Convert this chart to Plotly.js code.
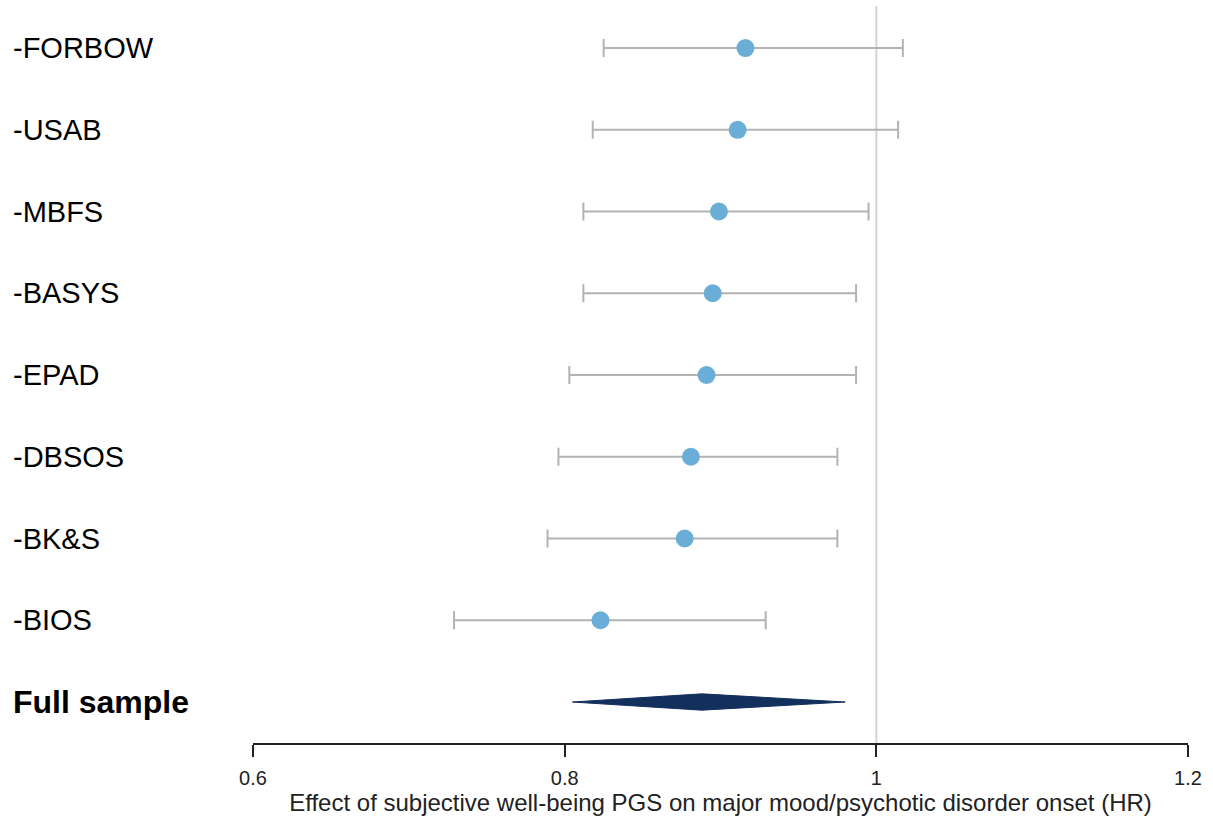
<!DOCTYPE html>
<html>
<head>
<meta charset="utf-8">
<script src="https://cdn.plot.ly/plotly-3.0.1.min.js"></script>
<style>
html, body { margin: 0; padding: 0; background: #ffffff; }
#chart { width: 1213px; height: 820px; }
</style>
</head>
<body>
<div id="chart"></div>
<script>
// ---- data ----
var studies = ["-FORBOW", "-USAB", "-MBFS", "-BASYS", "-EPAD", "-DBSOS", "-BK&S", "-BIOS"];
var hr      = [0.916, 0.911, 0.899, 0.895, 0.891, 0.881, 0.877, 0.823];
var ciLow   = [0.825, 0.818, 0.812, 0.812, 0.803, 0.796, 0.789, 0.729];
var ciHigh  = [1.017, 1.014, 0.995, 0.987, 0.987, 0.975, 0.975, 0.929];
var pooledLabel = "Full sample";
var pooledHR    = 0.888;
var pooledLow   = 0.805;
var pooledHigh  = 0.980;
var tickVals  = [0.6, 0.8, 1, 1.2];
var tickText  = ["0.6", "0.8", "1", "1.2"];
var xTitle = "Effect of subjective well-being PGS on major mood/psychotic disorder onset (HR)";
var refLine = 1;

// ---- derived positions (row order) ----
var n = studies.length;
var rowY = studies.map(function (_, i) { return n - i; });
var pooledY = 0;
var diamondHalf = 0.1;

var studyTrace = {
  type: "scatter",
  mode: "markers",
  x: hr,
  y: rowY,
  marker: { color: "#6aaed7", size: 18, line: { width: 0 } },
  error_x: {
    type: "data",
    symmetric: false,
    array: hr.map(function (v, i) { return ciHigh[i] - v; }),
    arrayminus: hr.map(function (v, i) { return v - ciLow[i]; }),
    color: "#b3b3b3",
    thickness: 2,
    width: 9
  },
  hoverinfo: "x+y",
  showlegend: false
};

var diamondTrace = {
  type: "scatter",
  mode: "lines",
  x: [pooledLow, pooledHR, pooledHigh, pooledHR, pooledLow],
  y: [pooledY, pooledY + diamondHalf, pooledY, pooledY - diamondHalf, pooledY],
  fill: "toself",
  fillcolor: "#12305b",
  line: { color: "#12305b", width: 1 },
  hoverinfo: "skip",
  showlegend: false
};

var annotations = studies.map(function (s, i) {
  return {
    xref: "paper", yref: "y",
    x: 0, y: rowY[i],
    xshift: -242,
    xanchor: "left", yanchor: "middle",
    text: s,
    showarrow: false,
    font: { family: "Liberation Sans, Arial, sans-serif", size: 29, color: "#000000" }
  };
});
annotations.push({
  xref: "paper", yref: "y",
  x: 0, y: pooledY,
  xshift: -242,
  xanchor: "left", yanchor: "middle",
  text: "<b>" + pooledLabel + "</b>",
  showarrow: false,
  font: { family: "Liberation Sans, Arial, sans-serif", size: 32, color: "#000000" }
});

var layout = {
  width: 1213,
  height: 820,
  margin: { l: 253, r: 25, t: 6, b: 77 },
  paper_bgcolor: "#ffffff",
  plot_bgcolor: "#ffffff",
  font: { family: "Liberation Sans, Arial, sans-serif", color: "#222222" },
  xaxis: {
    range: [0.6, 1.2],
    tickmode: "array",
    tickvals: tickVals,
    ticktext: tickText,
    showgrid: false,
    zeroline: false,
    showline: true,
    linecolor: "#222222",
    linewidth: 2,
    ticks: "outside",
    ticklen: 12,
    tickwidth: 2,
    tickcolor: "#222222",
    tickfont: { size: 20, color: "#222222" },
    ticklabelstandoff: 4,
    title: { text: xTitle, font: { size: 24, color: "#222222" }, standoff: 0 }
  },
  yaxis: {
    range: [-0.5015, 8.514],
    visible: false,
    showgrid: false,
    zeroline: false,
    fixedrange: true
  },
  shapes: [{
    type: "line",
    xref: "x", yref: "paper",
    x0: refLine, x1: refLine, y0: 0, y1: 1,
    line: { color: "#d4d4d4", width: 2 },
    layer: "below"
  }],
  annotations: annotations,
  showlegend: false
};

Plotly.newPlot("chart", [diamondTrace, studyTrace], layout, { displayModeBar: false, staticPlot: true });
</script>
</body>
</html>
